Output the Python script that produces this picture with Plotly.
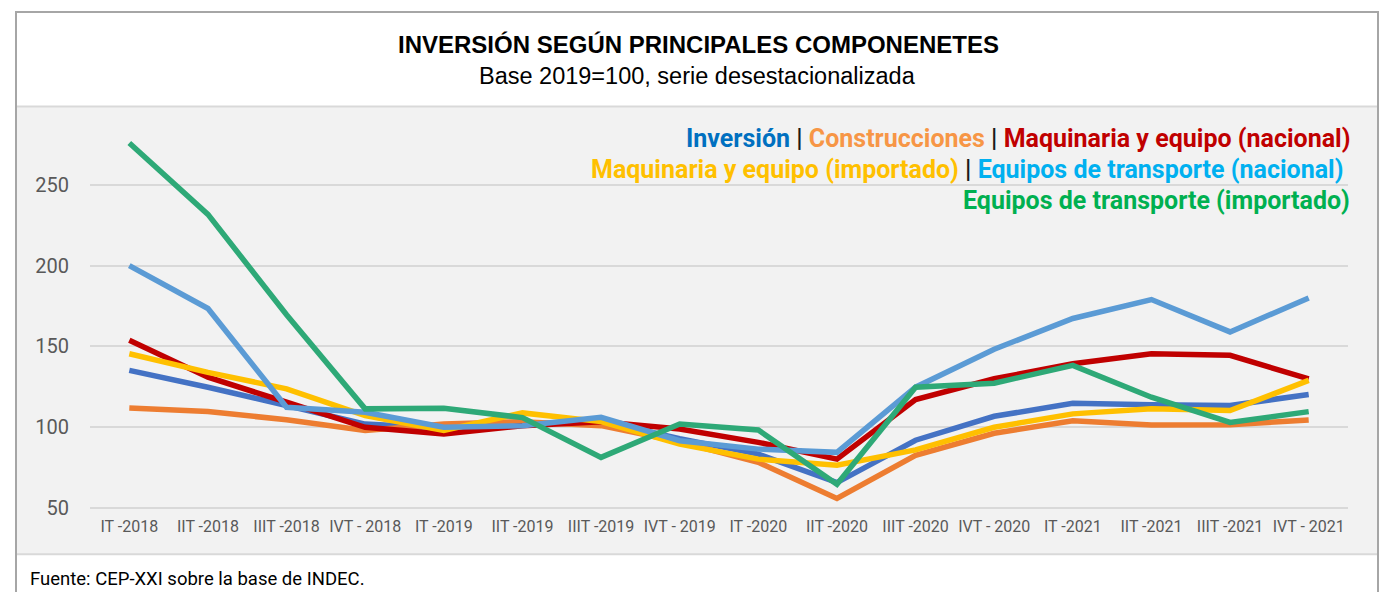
import plotly.graph_objects as go

W, H = 1381, 597
K = 1.0127  # vertical compensation factor

quarters = ["IT -2018", "IIT -2018", "IIIT -2018", "IVT - 2018",
            "IT -2019", "IIT -2019", "IIIT -2019", "IVT - 2019",
            "IT -2020", "IIT -2020", "IIIT -2020", "IVT - 2020",
            "IT -2021", "IIT -2021", "IIIT -2021", "IVT - 2021"]

inversion = [135.2, 124.8, 113.5, 102.0, 99.5, 101.5, 104.0, 93.0, 83.4, 65.8, 92.0, 106.8, 114.9, 114.0, 113.5, 120.3]
construcciones = [112.0, 109.8, 104.6, 98.0, 102.0, 103.5, 101.0, 91.0, 78.3, 56.0, 82.6, 96.3, 104.1, 101.4, 101.6, 104.5]
maq_nacional = [153.8, 131.0, 115.5, 100.0, 95.9, 101.0, 103.5, 99.0, 90.7, 80.3, 117.2, 130.0, 139.3, 145.5, 144.5, 130.0]
maq_importado = [145.5, 134.0, 123.8, 107.2, 98.0, 108.9, 103.5, 89.6, 80.3, 76.6, 86.0, 100.0, 108.3, 111.4, 110.4, 129.0]
transp_nacional = [200.0, 173.5, 112.4, 109.3, 100.0, 101.0, 106.2, 91.7, 86.5, 84.5, 124.8, 148.3, 167.3, 179.0, 159.0, 180.0]
transp_importado = [275.8, 231.7, 169.6, 111.4, 111.8, 106.0, 81.4, 102.0, 98.3, 64.8, 124.8, 127.3, 138.3, 118.6, 103.0, 109.7]

series = [
    ("Inversión", inversion, "#4472C4"),
    ("Construcciones", construcciones, "#ED7D31"),
    ("Maquinaria y equipo (nacional)", maq_nacional, "#C00000"),
    ("Maquinaria y equipo (importado)", maq_importado, "#FFC000"),
    ("Equipos de transporte (nacional)", transp_nacional, "#5B9BD5"),
    ("Equipos de transporte (importado)", transp_importado, "#2EA977"),
]

fig = go.Figure()
for name, vals, col in series:
    fig.add_trace(go.Scatter(x=quarters, y=vals, mode="lines", name=name,
                             line=dict(color=col, width=5.5), hoverinfo="skip"))


def px_x(p):
    return p / W


def px_y(p):
    return 1 - min(p * K, H) / H


x_left, x_right = 90, 1348
y_min, y_max = 46, 290
unit = 1.61
y_bot = 506 + (50 - y_min) * unit
y_top = 506 - (y_max - 50) * unit

shapes = [
    dict(type="rect", xref="paper", yref="paper", x0=px_x(16), x1=px_x(1378),
         y0=px_y(552), y1=px_y(106), fillcolor="#F2F2F2", line=dict(width=0), layer="below"),
    dict(type="line", xref="paper", yref="paper", x0=px_x(16), x1=px_x(1378),
         y0=px_y(106), y1=px_y(106), line=dict(color="#D9D9D9", width=2), layer="below"),
    dict(type="line", xref="paper", yref="paper", x0=px_x(16), x1=px_x(1378),
         y0=px_y(552), y1=px_y(552), line=dict(color="#D9D9D9", width=2), layer="below"),
    dict(type="line", xref="paper", yref="paper", x0=px_x(16), x1=px_x(16),
         y0=0, y1=px_y(12), line=dict(color="#A6A6A6", width=2)),
    dict(type="line", xref="paper", yref="paper", x0=px_x(1378), x1=px_x(1378),
         y0=0, y1=px_y(12), line=dict(color="#A6A6A6", width=2)),
    dict(type="line", xref="paper", yref="paper", x0=px_x(15), x1=px_x(1379),
         y0=px_y(12), y1=px_y(12), line=dict(color="#A6A6A6", width=2)),
]

sep = "<span style='color:#1a1a1a'> | </span>"
legend_lines = [
    ("<span style='color:#0070C0'>Inversión</span>" + sep +
     "<span style='color:#F79646'>Construcciones</span>" + sep +
     "<span style='color:#C00000'>Maquinaria y equipo (nacional)</span>", 138, 1352),
    ("<span style='color:#FFC000'>Maquinaria y equipo (importado)</span>" + sep +
     "<span style='color:#00B0F0'>Equipos de transporte (nacional)</span>", 169, 1345),
    ("<span style='color:#00B050'>Equipos de transporte (importado)</span>", 200, 1352),
]

annotations = [
    dict(text="<b>INVERSIÓN SEGÚN PRINCIPALES COMPONENETES</b>", x=px_x(698), y=px_y(44),
         xref="paper", yref="paper", showarrow=False, xanchor="center", yanchor="middle",
         font=dict(family="Liberation Sans, Arial", size=24, color="#000000")),
    dict(text="Base 2019=100, serie desestacionalizada", x=px_x(697), y=px_y(76),
         xref="paper", yref="paper", showarrow=False, xanchor="center", yanchor="middle",
         font=dict(family="Liberation Sans, Arial", size=23.5, color="#000000")),
    dict(text="Fuente: CEP-XXI sobre la base de INDEC.", x=px_x(29), y=0.002,
         xref="paper", yref="paper", showarrow=False, xanchor="left", yanchor="bottom",
         borderpad=0, font=dict(family="Roboto", size=18.5, color="#000000")),
]
for txt, yy, xx in legend_lines:
    annotations.append(dict(text="<b>" + txt + "</b>", x=px_x(xx), y=px_y(yy),
                            xref="paper", yref="paper", showarrow=False,
                            xanchor="right", yanchor="middle",
                            font=dict(family="Roboto", size=25)))

fig.update_layout(
    width=W, height=H,
    margin=dict(l=0, r=0, t=0, b=0),
    paper_bgcolor="#FFFFFF",
    plot_bgcolor="rgba(0,0,0,0)",
    showlegend=False,
    shapes=shapes,
    annotations=annotations,
    xaxis=dict(domain=[px_x(x_left), px_x(x_right)], type="category",
               range=[-0.5, len(quarters) - 0.5], showgrid=False, zeroline=False,
               showline=False, ticks="", ticklabelstandoff=0,
               tickfont=dict(family="Roboto", size=16, color="#595959")),
    yaxis=dict(domain=[px_y(y_bot), px_y(y_top)], range=[y_min, y_max],
               tickvals=[50, 100, 150, 200, 250], showgrid=True,
               gridcolor="#D9D9D9", gridwidth=2, zeroline=False, showline=False,
               ticks="", ticklabelstandoff=20,
               tickfont=dict(family="Roboto", size=20, color="#595959")),
)

post = ("var h=document.documentElement,b=document.body;"
        "h.style.margin='0';h.style.padding='0';h.style.overflow='hidden';"
        "b.style.margin='0';b.style.padding='0';b.style.overflow='hidden';"
        "b.style.height='597px';h.style.height='597px';")

fig.write_html("out.html", config={"displayModeBar": False}, post_script=post)
